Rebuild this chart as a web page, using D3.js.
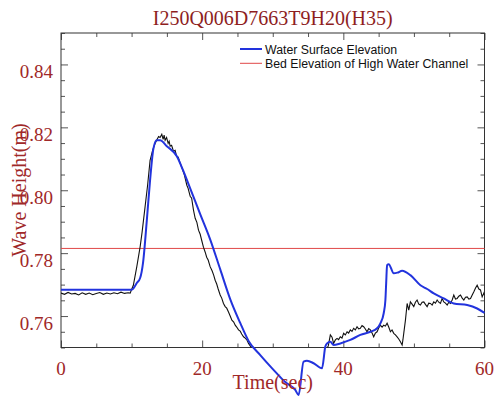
<!DOCTYPE html>
<html><head><meta charset="utf-8">
<script src="https://cdn.jsdelivr.net/npm/d3@7"></script>
<style>
html,body{margin:0;padding:0;background:#fff;}
svg{display:block;}
</style></head>
<body>
<svg id="chart" width="498" height="396"></svg>
<script>
// ---- data ----
const title = "I250Q006D7663T9H20(H35)";
const xLabel = "Time(sec)";
const yLabel = "Wave Height(m)";
const xMajorTicks = [0, 20, 40, 60];
const yMajorTicks = [0.76, 0.78, 0.80, 0.82, 0.84];
const yTickLabels = ["0.76", "0.78", "0.80", "0.82", "0.84"];
const legendLabels = ["Water Surface Elevation", "Bed Elevation of High Water Channel"];
const bedElevation = 0.7815;

// simulated water surface elevation (blue)
const simT = [0, 10.03, 10.74, 11.21, 11.63, 12.16, 12.62, 13.09, 13.57, 14.04, 14.99, 16.41, 17.30, 18.30, 19.72, 21.13, 22.55, 23.97, 25.39, 26.57, 28.23, 30.11, 31.77, 33.19, 33.66, 34.37, 34.85, 35.79, 36.98, 37.45, 37.69, 38.16, 38.62, 39.57, 40.99, 42.41, 43.83, 44.78, 45.25, 45.72, 45.96, 46.07, 46.20, 46.43, 47.14, 47.66, 48.33, 49.50, 50.92, 51.87, 52.81, 54.23, 55.65, 57.55, 58.96, 60.0];
const simV = [0.7684, 0.7684, 0.7705, 0.7721, 0.7771, 0.7905, 0.8032, 0.8132, 0.8159, 0.8159, 0.8140, 0.8108, 0.8063, 0.8006, 0.7924, 0.7844, 0.7749, 0.7654, 0.7578, 0.7521, 0.7476, 0.7429, 0.7390, 0.7365, 0.7349, 0.7455, 0.7458, 0.7450, 0.7434, 0.7503, 0.7513, 0.7518, 0.7508, 0.7513, 0.7524, 0.7540, 0.7550, 0.7561, 0.7577, 0.7609, 0.7651, 0.7705, 0.7762, 0.7765, 0.7736, 0.7738, 0.7744, 0.7730, 0.7698, 0.7686, 0.7672, 0.7656, 0.7640, 0.7635, 0.7624, 0.7610];

// measured (black)
const obsT = [0, 0.5, 1, 1.5, 2, 2.5, 3, 3.5, 4, 4.5, 5, 5.5, 6, 6.5, 7, 7.5, 8, 8.5, 9, 9.5, 9.8,
  10.03, 10.25, 10.74, 11.21, 11.49, 11.91, 12.27, 12.62, 12.98, 13.33, 13.62, 13.83, 14.04, 14.28, 14.47, 14.61, 14.75, 14.96, 15.18, 15.32, 15.46, 15.67, 15.93, 16.17, 16.38, 16.60, 16.88, 17.16, 17.45, 17.83, 18.01, 18.30, 18.51, 18.77, 19.01, 19.25, 19.48, 19.72, 19.93, 20.18, 20.43, 20.64, 20.85, 21.13, 21.42, 21.63, 21.84, 22.06, 22.27, 22.55, 22.77, 23.02, 23.26, 23.48, 23.73, 23.97, 24.21, 24.47, 24.68, 24.89, 25.15, 25.39, 25.60, 25.86, 26.10, 26.34, 26.57, 26.81, 27.05,
  27.5, 29, 31, 33, 35, 36.5, 37.3, 37.7,
  37.87, 38.16, 38.40, 38.62, 38.87, 39.11, 39.33, 39.57, 39.81, 40.04, 40.28, 40.53, 40.75, 40.99, 41.23, 41.46, 41.70, 41.94, 42.17, 42.41, 42.65, 42.88, 43.12, 43.36, 43.59, 43.83, 44.07, 44.30, 44.54, 44.78, 45.01, 45.25, 45.49, 45.72, 45.96, 46.20, 46.43, 46.67, 46.90, 47.14, 47.38, 47.62, 47.85, 48.09, 48.33, 48.44, 48.56, 48.80, 49.04, 49.27, 49.50, 49.74, 49.98, 50.21, 50.45, 50.69, 50.92, 51.16, 51.40, 51.63, 51.87, 52.10, 52.34, 52.58, 52.81, 53.05, 53.29, 53.52, 53.76, 54.00, 54.23, 54.47, 54.71, 54.94, 55.18, 55.42, 55.65, 55.89, 56.13, 56.36, 56.60, 56.84, 57.07, 57.31, 57.55, 57.78, 58.02, 58.26, 58.49, 58.73, 58.96, 59.20, 59.43, 59.67, 59.91, 60.0];
const obsV = [0.7673, 0.7669, 0.7675, 0.7670, 0.7672, 0.7667, 0.7674, 0.7669, 0.7673, 0.7668, 0.7672, 0.7675, 0.7669, 0.7673, 0.7670, 0.7674, 0.7671, 0.7676, 0.7672, 0.7674, 0.7673,
  0.7686, 0.7698, 0.7757, 0.7820, 0.7867, 0.7947, 0.8016, 0.8095, 0.8127, 0.8149, 0.8162, 0.8171, 0.8168, 0.8178, 0.8162, 0.8175, 0.8159, 0.8168, 0.8149, 0.8156, 0.8140, 0.8143, 0.8124, 0.8127, 0.8108, 0.8105, 0.8086, 0.8070, 0.8051, 0.8016, 0.8006, 0.7981, 0.7975, 0.7937, 0.7911, 0.7898, 0.7873, 0.7860, 0.7841, 0.7819, 0.7803, 0.7787, 0.7778, 0.7757, 0.7743, 0.7730, 0.7714, 0.7702, 0.7686, 0.7667, 0.7657, 0.7640, 0.7630, 0.7625, 0.7613, 0.7600, 0.7587, 0.7581, 0.7571, 0.7565, 0.7556, 0.7552, 0.7543, 0.7534, 0.7530, 0.7524, 0.7513, 0.7505, 0.7497,
  0.7490, 0.7480, 0.7475, 0.7472, 0.7478, 0.7485, 0.7492, 0.7498,
  0.7505, 0.7540, 0.7533, 0.7513, 0.7524, 0.7529, 0.7525, 0.7534, 0.7530, 0.7545, 0.7540, 0.7550, 0.7546, 0.7556, 0.7551, 0.7561, 0.7556, 0.7566, 0.7559, 0.7561, 0.7570, 0.7566, 0.7559, 0.7550, 0.7560, 0.7556, 0.7546, 0.7534, 0.7546, 0.7550, 0.7562, 0.7571, 0.7565, 0.7571, 0.7568, 0.7577, 0.7565, 0.7550, 0.7556, 0.7545, 0.7540, 0.7534, 0.7527, 0.7518, 0.7508, 0.7524, 0.7545, 0.7587, 0.7640, 0.7619, 0.7645, 0.7638, 0.7630, 0.7644, 0.7651, 0.7638, 0.7635, 0.7644, 0.7645, 0.7637, 0.7630, 0.7641, 0.7640, 0.7635, 0.7645, 0.7641, 0.7651, 0.7644, 0.7640, 0.7656, 0.7645, 0.7641, 0.7635, 0.7644, 0.7640, 0.7651, 0.7667, 0.7654, 0.7656, 0.7663, 0.7667, 0.7657, 0.7651, 0.7660, 0.7661, 0.7654, 0.7656, 0.7667, 0.7677, 0.7689, 0.7698, 0.7686, 0.7683, 0.7661, 0.7673, 0.7667];

// ---- drawing ----
const svg = d3.select("#chart");
const L = 61, R = 484.5, T = 33, B = 347.5;
const x = d3.scaleLinear().domain([0, 60]).range([L, R]);
const y = d3.scaleLinear().domain([0.75, 0.85]).range([B, T]);
const textRed = "#a02828";
const axisCol = "#555";

const xMinor = d3.range(0, 60.001, 5).filter(v => !xMajorTicks.includes(v));
const yMinor = d3.range(0, 21).map(i => +(0.75 + i * 0.005).toFixed(3)).filter(v => !yMajorTicks.some(m => Math.abs(m - v) < 1e-6));

function styleAxis(g) {
  g.select(".domain").remove();
  g.selectAll("line").attr("stroke", axisCol).attr("stroke-width", 1);
}
// ticks (inward, mirrored)
svg.append("g").attr("transform", `translate(0,${B})`).call(d3.axisBottom(x).tickValues(xMajorTicks).tickSize(-7).tickFormat("")).call(styleAxis);
svg.append("g").attr("transform", `translate(0,${B})`).call(d3.axisBottom(x).tickValues(xMinor).tickSize(-4).tickFormat("")).call(styleAxis);
svg.append("g").attr("transform", `translate(0,${T})`).call(d3.axisTop(x).tickValues(xMajorTicks).tickSize(-7).tickFormat("")).call(styleAxis);
svg.append("g").attr("transform", `translate(0,${T})`).call(d3.axisTop(x).tickValues(xMinor).tickSize(-4).tickFormat("")).call(styleAxis);
svg.append("g").attr("transform", `translate(${L},0)`).call(d3.axisLeft(y).tickValues(yMajorTicks).tickSize(-7).tickFormat("")).call(styleAxis);
svg.append("g").attr("transform", `translate(${L},0)`).call(d3.axisLeft(y).tickValues(yMinor).tickSize(-4).tickFormat("")).call(styleAxis);
svg.append("g").attr("transform", `translate(${R},0)`).call(d3.axisRight(y).tickValues(yMajorTicks).tickSize(-7).tickFormat("")).call(styleAxis);
svg.append("g").attr("transform", `translate(${R},0)`).call(d3.axisRight(y).tickValues(yMinor).tickSize(-4).tickFormat("")).call(styleAxis);

// frame
svg.append("rect").attr("x", L).attr("y", T).attr("width", R - L).attr("height", B - T)
  .attr("fill", "none").attr("stroke", "#333").attr("stroke-width", 1);

// tick labels
svg.selectAll(".xl").data(xMajorTicks).join("text")
  .attr("x", d => x(d)).attr("y", B + 27.5)
  .attr("text-anchor", "middle").attr("font-family", "Liberation Serif, Times New Roman, serif")
  .attr("font-size", 19).attr("fill", textRed).text(d => d);
svg.selectAll(".yl").data(yMajorTicks).join("text")
  .attr("x", L - 8).attr("y", d => y(d) + 14)
  .attr("text-anchor", "end").attr("font-family", "Liberation Serif, Times New Roman, serif")
  .attr("font-size", 19).attr("fill", textRed).text((d, i) => yTickLabels[i]);

// clip for measured data
svg.append("clipPath").attr("id", "plotclip").append("rect")
  .attr("x", L).attr("y", T).attr("width", R - L).attr("height", B - T);

// bed elevation line
svg.append("line").attr("x1", x(0)).attr("x2", x(60)).attr("y1", y(bedElevation)).attr("y2", y(bedElevation))
  .attr("stroke", "#e04848").attr("stroke-width", 1);

// measured
const obs = obsT.map((t, i) => [t, obsV[i]]);
svg.append("path").datum(obs).attr("clip-path", "url(#plotclip)")
  .attr("fill", "none").attr("stroke", "#111").attr("stroke-width", 1.1)
  .attr("d", d3.line().x(d => x(d[0])).y(d => y(d[1])));

// simulated (not clipped, like the original)
const sim = simT.map((t, i) => [t, simV[i]]);
svg.append("path").datum(sim)
  .attr("fill", "none").attr("stroke", "#2233dd").attr("stroke-width", 2).attr("stroke-linejoin", "round")
  .attr("d", d3.line().curve(d3.curveMonotoneX).x(d => x(d[0])).y(d => y(d[1])));

// title
svg.append("text").attr("x", (L + R) / 2).attr("y", 25).attr("text-anchor", "middle")
  .attr("font-family", "Liberation Serif, Times New Roman, serif").attr("font-size", 20)
  .attr("fill", "#8e1e1e").text(title);

// axis titles
svg.append("text").attr("x", (L + R) / 2).attr("y", 389).attr("text-anchor", "middle")
  .attr("font-family", "Liberation Serif, Times New Roman, serif").attr("font-size", 20)
  .attr("fill", textRed).text(xLabel);
svg.append("text").attr("transform", `translate(26,190) rotate(-90)`).attr("text-anchor", "middle")
  .attr("font-family", "Liberation Serif, Times New Roman, serif").attr("font-size", 20)
  .attr("fill", textRed).text(yLabel);

// legend
const legColors = ["#2233dd", "#e04848"];
const legWidths = [2, 1];
const legY = [49, 63.3];
legendLabels.forEach((lab, i) => {
  svg.append("line").attr("x1", 240).attr("x2", 262).attr("y1", legY[i]).attr("y2", legY[i])
    .attr("stroke", legColors[i]).attr("stroke-width", legWidths[i]);
  svg.append("text").attr("x", 265).attr("y", legY[i] + 4.5)
    .attr("font-family", "Liberation Sans, Arial, sans-serif").attr("font-size", 12.3)
    .attr("fill", "#111").text(lab);
});
</script>
</body></html>
